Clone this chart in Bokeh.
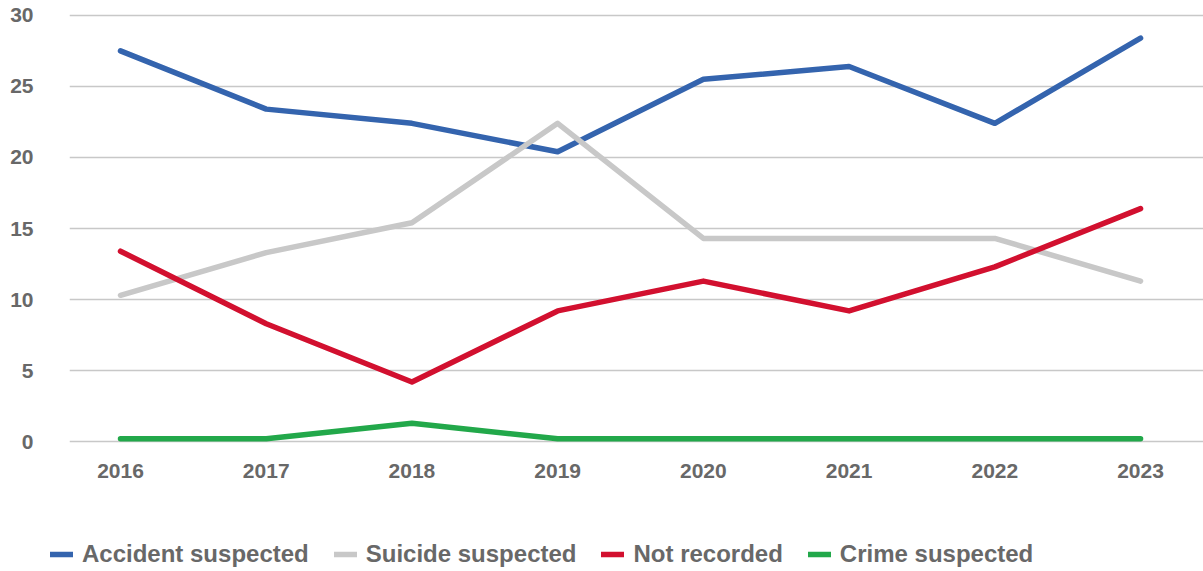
from bokeh.plotting import figure
from bokeh.models import Range1d, Legend, LegendItem, FixedTicker
from bokeh.layouts import column
from bokeh.embed import file_html
from bokeh.resources import INLINE

years = [2016, 2017, 2018, 2019, 2020, 2021, 2022, 2023]
accident = [27.5, 23.4, 22.4, 20.4, 25.5, 26.4, 22.4, 28.4]
suicide = [10.3, 13.3, 15.4, 22.4, 14.3, 14.3, 14.3, 11.3]
not_recorded = [13.4, 8.3, 4.2, 9.2, 11.3, 9.2, 12.3, 16.4]
crime = [0.2, 0.2, 1.3, 0.2, 0.2, 0.2, 0.2, 0.2]
y_ticks = [0, 5, 10, 15, 20, 25, 30]

series = [
    ("Accident suspected", accident, "#3464AE"),
    ("Suicide suspected", suicide, "#C8C8C8"),
    ("Not recorded", not_recorded, "#D2102F"),
    ("Crime suspected", crime, "#22A84A"),
]

FONT = "Liberation Sans"
TXT = "#686868"
LW = 5.5

p = figure(width=1203, height=511, output_backend="svg", toolbar_location=None,
           x_range=Range1d(2015.65, 2023.432), y_range=Range1d(-0.2, 30.2),
           min_border_left=69, min_border_right=0, min_border_top=12,
           min_border_bottom=67)
p.frame_align = False
p.outline_line_color = None

p.xaxis.ticker = FixedTicker(ticks=years)
p.xaxis.axis_line_color = None
p.xaxis.major_tick_line_color = None
p.xaxis.minor_tick_line_color = None
p.xaxis.major_tick_out = 0
p.xaxis.major_label_standoff = 19
p.xaxis.major_label_text_font = FONT
p.xaxis.major_label_text_font_style = "bold"
p.xaxis.major_label_text_font_size = "21px"
p.xaxis.major_label_text_color = TXT
p.xgrid.grid_line_color = None

p.yaxis.ticker = FixedTicker(ticks=y_ticks)
p.yaxis.axis_line_color = None
p.yaxis.major_tick_line_color = None
p.yaxis.minor_tick_line_color = None
p.yaxis.major_tick_out = 0
p.yaxis.major_label_standoff = 36
p.yaxis.major_label_text_font = FONT
p.yaxis.major_label_text_font_style = "bold"
p.yaxis.major_label_text_font_size = "21px"
p.yaxis.major_label_text_color = TXT
p.ygrid.grid_line_color = "#C8C8C8"
p.ygrid.grid_line_width = 1.5

for name, vals, col in series:
    p.line(years, vals, line_color=col, line_width=LW, line_cap="round", line_join="round")

# legend strip below the chart (its own ranges keep the proxy lines out of view)
q = figure(width=1203, height=60, output_backend="svg", toolbar_location=None,
           x_range=Range1d(0, 1), y_range=Range1d(1000, 1001),
           min_border_left=0, min_border_right=0, min_border_top=0, min_border_bottom=0)
q.frame_align = False
q.axis.visible = False
q.grid.grid_line_color = None
q.outline_line_color = None

items = []
for name, vals, col in series:
    r = q.line(years, vals, line_color=col, line_width=LW, line_cap="round")
    items.append(LegendItem(label=name, renderers=[r]))

legend = Legend(items=items, orientation="horizontal", location=(50, 3),
                glyph_width=23, glyph_height=20, label_standoff=9, spacing=25,
                padding=0, margin=0, border_line_color=None, background_fill_alpha=0,
                label_text_font=FONT, label_text_font_style="bold",
                label_text_font_size="24px", label_text_color=TXT)
q.add_layout(legend, "center")

layout = column(p, q, spacing=0)
open("out.html", "w").write(file_html(layout, INLINE))
